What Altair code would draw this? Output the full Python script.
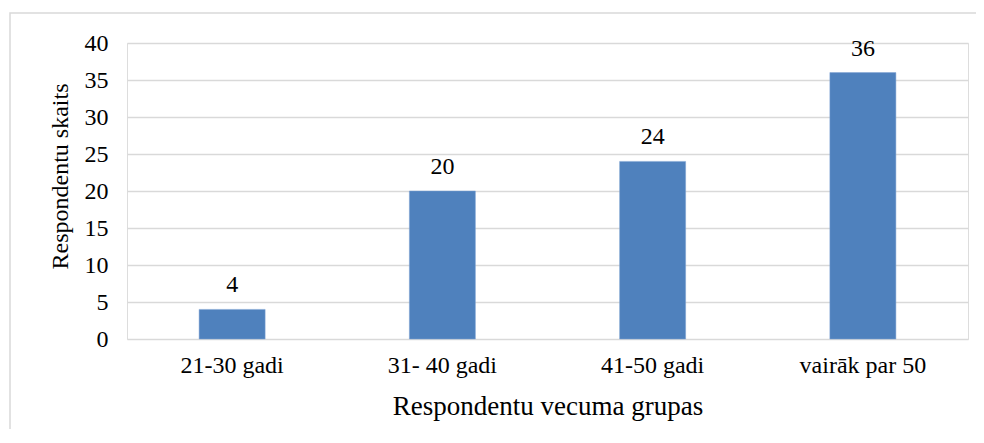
import altair as alt
import pandas as pd

categories = ["21-30 gadi", "31- 40 gadi", "41-50 gadi", "vairāk par 50"]
values = [4, 20, 24, 36]
y_ticks = [0, 5, 10, 15, 20, 25, 30, 35, 40]

df = pd.DataFrame({"grupa": categories, "skaits": values})

FONT = "Liberation Serif"
W, H = 841, 296

x_enc = alt.X(
    "grupa:N",
    sort=categories,
    title="Respondentu vecuma grupas",
    scale=alt.Scale(paddingInner=0.686, paddingOuter=0.343),
    axis=alt.Axis(
        labelAngle=0, labelFont=FONT, labelFontSize=24, labelColor="#000000",
        labelPadding=14, ticks=False, domain=False, grid=False,
        titleFont=FONT, titleFontSize=27, titleFontWeight="normal", titleColor="#000000",
        titlePadding=16,
    ),
)
y_enc = alt.Y(
    "skaits:Q",
    title="Respondentu skaits",
    scale=alt.Scale(domain=[0, 40], nice=False),
    axis=alt.Axis(
        values=y_ticks, labelFont=FONT, labelFontSize=24, labelColor="#000000",
        labelPadding=19, ticks=False, domain=False,
        grid=True, gridColor="#d9d9d9", gridWidth=1.3,
        titleFont=FONT, titleFontSize=24, titleFontWeight="normal", titleColor="#000000",
        titleX=-67, titleY=133, titleBaseline="middle", titleAngle=270,
    ),
)

border = alt.Chart(pd.DataFrame({"a": [0]})).mark_rect(
    fill="transparent", stroke="#d9d9d9", strokeWidth=1.5, clip=False
).encode(
    x=alt.value(-117), x2=alt.value(860), y=alt.value(-30), y2=alt.value(420)
)

bars = alt.Chart(df).mark_bar(color="#4F81BD", stroke="#7fa3d3", strokeWidth=0.5).encode(
    x=x_enc, y=y_enc
)

labels = alt.Chart(df).mark_text(
    font=FONT, fontSize=24, color="#000000", baseline="alphabetic", dy=-17
).encode(
    x=x_enc, y=y_enc, text="skaits:Q",
)

chart = alt.layer(border, bars, labels).properties(
    width=W, height=H,
    autosize=alt.AutoSizeParams(type="none"),
    padding={"left": 119, "top": 35, "right": 8, "bottom": 90},
).configure_view(stroke="transparent").configure_axisX(grid=False, domain=False).configure(
    background="#ffffff", font=FONT
)

chart.save("out.html", embed_options={"renderer": "svg", "actions": False})
